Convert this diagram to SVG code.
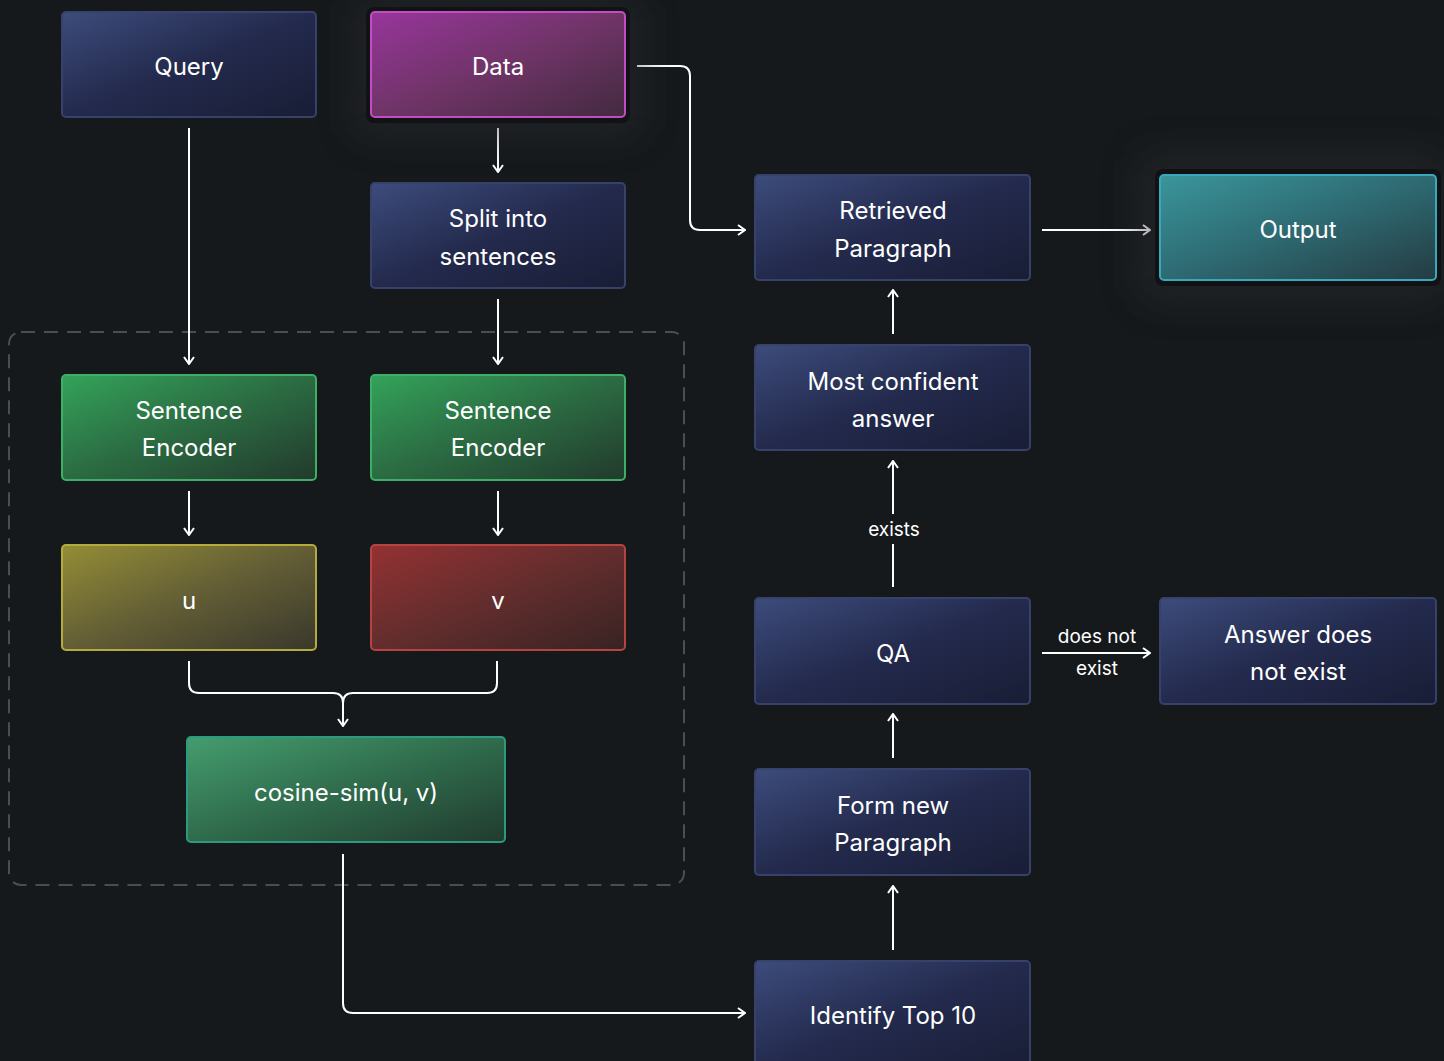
<svg xmlns="http://www.w3.org/2000/svg" width="1444" height="1061" viewBox="0 0 1444 1061">
<style>
.lbl{font-family:Inter,"Liberation Sans",sans-serif;font-size:24px;font-weight:400;fill:#ffffff;text-anchor:middle;dominant-baseline:central}
.elbl{font-family:Inter,"Liberation Sans",sans-serif;font-size:19px;font-weight:400;fill:#ffffff;text-anchor:middle;dominant-baseline:central}
.edge{fill:none;stroke:#ffffff;stroke-width:2;marker-end:url(#arr)}
.plain{fill:none;stroke:#ffffff;stroke-width:2}
.node{stroke-width:2}
</style>
<defs>
<marker id="arr" viewBox="0 0 12 12" refX="11" refY="6" markerWidth="12" markerHeight="12" markerUnits="userSpaceOnUse" orient="auto">
<polyline points="4,1 11,6 4,11" fill="none" stroke="#ffffff" stroke-width="2"/>
</marker>
<linearGradient id="gBlue" x1="0" y1="0" x2="1" y2="1"><stop offset="0" stop-color="#3d4c7c"/><stop offset="0.5" stop-color="#232a4d"/><stop offset="1" stop-color="#191d35"/></linearGradient>
<linearGradient id="gPurple" x1="0" y1="0" x2="1" y2="1"><stop offset="0" stop-color="#98359c"/><stop offset="0.5" stop-color="#703468"/><stop offset="1" stop-color="#422a3f"/></linearGradient>
<linearGradient id="gGreen" x1="0" y1="0" x2="1" y2="1"><stop offset="0" stop-color="#33a35a"/><stop offset="0.5" stop-color="#2b6b42"/><stop offset="1" stop-color="#223a2c"/></linearGradient>
<linearGradient id="gYellow" x1="0" y1="0" x2="1" y2="1"><stop offset="0" stop-color="#948d36"/><stop offset="0.5" stop-color="#635e35"/><stop offset="1" stop-color="#39382c"/></linearGradient>
<linearGradient id="gRed" x1="0" y1="0" x2="1" y2="1"><stop offset="0" stop-color="#943132"/><stop offset="0.5" stop-color="#632d2d"/><stop offset="1" stop-color="#382323"/></linearGradient>
<linearGradient id="gCos" x1="0" y1="0" x2="1" y2="1"><stop offset="0" stop-color="#449d6e"/><stop offset="0.5" stop-color="#2f6b4c"/><stop offset="1" stop-color="#213b2e"/></linearGradient>
<linearGradient id="gTeal" x1="0" y1="0" x2="1" y2="1"><stop offset="0" stop-color="#3a969c"/><stop offset="0.5" stop-color="#2e6a72"/><stop offset="1" stop-color="#253b42"/></linearGradient>
<filter id="glow" x="-30%" y="-50%" width="160%" height="200%"><feGaussianBlur stdDeviation="18"/></filter>
</defs>
<rect x="0" y="0" width="1444" height="1061" fill="#16191c"/>

<g id="group-box">
<rect x="9" y="332" width="675" height="553" rx="12" fill="none" stroke="#4a4e54" stroke-width="2" stroke-dasharray="14 9"/>
</g>

<g id="connectors">
<path class="edge" d="M189,128 V364"/>
<path class="edge" d="M498,128 V172"/>
<path class="edge" d="M498,299 V364"/>
<path class="edge" d="M189,491 V535"/>
<path class="edge" d="M498,491 V535"/>
<path class="plain" d="M189,661 V683 Q189,693 199,693 H333 Q343,693 343,703"/>
<path class="plain" d="M497,661 V683 Q497,693 487,693 H353 Q343,693 343,703"/>
<path class="edge" d="M343,700 V726"/>
<path class="edge" d="M343,854 V1003 Q343,1013 353,1013 H745"/>
<path class="edge" d="M637,66 H680 Q690,66 690,76 V220 Q690,230 700,230 H745"/>
<path class="edge" d="M1042,230 H1150"/>
<path class="edge" d="M893,334 V290"/>
<path class="plain" d="M893,587 V544"/>
<path class="edge" d="M893,514 V461"/>
<text class="elbl" x="894" y="529">exists</text>
<path class="edge" d="M893,758 V714"/>
<path class="edge" d="M893,950 V886"/>
<path class="edge" d="M1042,653 H1150"/>
<text class="elbl" x="1097" y="636">does not</text>
<text class="elbl" x="1097" y="668">exist</text>
</g>

<g id="node-query">
<rect class="node" x="62" y="12" width="254" height="105" rx="4" fill="url(#gBlue)" stroke="#37426b"/>
<text class="lbl" x="189" y="66">Query</text>
</g>

<g id="node-data">
<rect x="356" y="0" width="284" height="135" rx="12" fill="#2a2d32" opacity="0.5" filter="url(#glow)"/>
<rect x="366" y="7" width="264" height="116" rx="8" fill="#101214"/>
<rect class="node" x="371" y="12" width="254" height="105" rx="4" fill="url(#gPurple)" stroke="#c24cc4"/>
<text class="lbl" x="498" y="66">Data</text>
</g>

<g id="node-split">
<rect class="node" x="371" y="183" width="254" height="105" rx="4" fill="url(#gBlue)" stroke="#37426b"/>
<text class="lbl" x="498" y="218">Split into</text>
<text class="lbl" x="498" y="256">sentences</text>
</g>

<g id="node-enc-left">
<rect class="node" x="62" y="375" width="254" height="105" rx="4" fill="url(#gGreen)" stroke="#3daf66"/>
<text class="lbl" x="189" y="410">Sentence</text>
<text class="lbl" x="189" y="447">Encoder</text>
</g>

<g id="node-enc-right">
<rect class="node" x="371" y="375" width="254" height="105" rx="4" fill="url(#gGreen)" stroke="#3daf66"/>
<text class="lbl" x="498" y="410">Sentence</text>
<text class="lbl" x="498" y="447">Encoder</text>
</g>

<g id="node-u">
<rect class="node" x="62" y="545" width="254" height="105" rx="4" fill="url(#gYellow)" stroke="#b3ab3e"/>
<text class="lbl" x="189" y="600">u</text>
</g>

<g id="node-v">
<rect class="node" x="371" y="545" width="254" height="105" rx="4" fill="url(#gRed)" stroke="#b5433f"/>
<text class="lbl" x="498" y="600">v</text>
</g>

<g id="node-cos">
<rect class="node" x="187" y="737" width="318" height="105" rx="4" fill="url(#gCos)" stroke="#2c9a7e"/>
<text class="lbl" x="346" y="792">cosine-sim(u, v)</text>
</g>

<g id="node-retrieved">
<rect class="node" x="755" y="175" width="275" height="105" rx="4" fill="url(#gBlue)" stroke="#37426b"/>
<text class="lbl" x="893" y="210">Retrieved</text>
<text class="lbl" x="893" y="248">Paragraph</text>
</g>

<g id="node-output">
<rect x="1140" y="155" width="304" height="145" rx="12" fill="#2a2d32" opacity="0.5" filter="url(#glow)"/>
<rect x="1155" y="169" width="286" height="117" rx="8" fill="#101214"/>
<rect class="node" x="1160" y="175" width="276" height="105" rx="4" fill="url(#gTeal)" stroke="#3aa8bc"/>
<text class="lbl" x="1298" y="229">Output</text>
</g>

<g id="node-confident">
<rect class="node" x="755" y="345" width="275" height="105" rx="4" fill="url(#gBlue)" stroke="#37426b"/>
<text class="lbl" x="893" y="381">Most confident</text>
<text class="lbl" x="893" y="418">answer</text>
</g>

<g id="node-qa">
<rect class="node" x="755" y="598" width="275" height="106" rx="4" fill="url(#gBlue)" stroke="#37426b"/>
<text class="lbl" x="893" y="653">QA</text>
</g>

<g id="node-noanswer">
<rect class="node" x="1160" y="598" width="276" height="106" rx="4" fill="url(#gBlue)" stroke="#37426b"/>
<text class="lbl" x="1298" y="634">Answer does</text>
<text class="lbl" x="1298" y="671">not exist</text>
</g>

<g id="node-form">
<rect class="node" x="755" y="769" width="275" height="106" rx="4" fill="url(#gBlue)" stroke="#37426b"/>
<text class="lbl" x="893" y="805">Form new</text>
<text class="lbl" x="893" y="842">Paragraph</text>
</g>

<g id="node-top10">
<rect class="node" x="755" y="961" width="275" height="110" rx="4" fill="url(#gBlue)" stroke="#37426b"/>
<text class="lbl" x="893" y="1015">Identify Top 10</text>
</g>
</svg>
